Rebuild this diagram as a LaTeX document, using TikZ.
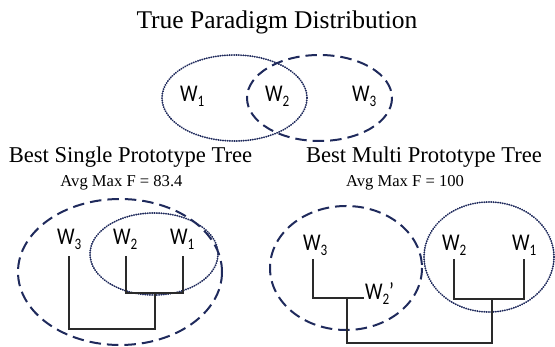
\documentclass[tikz,border=0pt]{standalone}
\usepackage{fontspec}
\setmainfont{Liberation Serif}
\newfontfamily\wfont[FakeStretch=0.82]{Carlito}
\newcommand\Wl[1]{{\wfont\fontsize{24}{24}\selectfont W\raisebox{-5pt}{\fontsize{16}{16}\selectfont #1}}}
\begin{document}
\begin{tikzpicture}[x=1pt,y=-1pt]
\definecolor{navy}{HTML}{1F2A5C}
\definecolor{treegray}{HTML}{2A2A2A}
\tikzset{
  dashell/.style={draw=navy,line width=2pt,dash pattern=on 11.5pt off 6pt},
  dotell/.style={draw=navy,line width=1.8pt,line cap=round,dash pattern=on 0.4pt off 1.9pt},
  branch/.style={draw=treegray,line width=1.3pt},
  wlab/.style={anchor=base west,inner sep=0pt,outer sep=0pt},
  title/.style={anchor=base,inner sep=0pt,font=\fontsize{25.5}{25.5}\selectfont},
  subtitle/.style={anchor=base,inner sep=0pt,font=\fontsize{22.6}{22.6}\selectfont},
  score/.style={anchor=base,inner sep=0pt,font=\fontsize{16.6}{16.6}\selectfont}
}
\useasboundingbox (0,0) rectangle (555,347);
% titles
\node[title] (t) at (277,28.5) {True Paradigm Distribution};
\node[subtitle] (ts) at (130.5,163) {Best Single Prototype Tree};
\node[subtitle] (tm) at (424,163) {Best Multi Prototype Tree};
\node[score] (fs) at (121.5,187) {Avg Max F = 83.4};
\node[score] (fm) at (405,187) {Avg Max F = 100};
% top Venn
\draw[dotell] (234.5,98) ellipse [x radius=72.5,y radius=43];
\draw[dashell] (319.5,98) ellipse [x radius=72.5,y radius=43];
\node[wlab] (v1) at (180,102) {\Wl{1}};
\node[wlab] (v2) at (265,102) {\Wl{2}};
\node[wlab] (v3) at (352,102) {\Wl{3}};
% left tree
\draw[dashell] (120,272) ellipse [x radius=102,y radius=73];
\draw[dotell] (154,254) ellipse [x radius=64,y radius=41];
\node[wlab] (a3) at (57,245) {\Wl{3}};
\node[wlab] (a2) at (113,245) {\Wl{2}};
\node[wlab] (a1) at (170,245) {\Wl{1}};
\coordinate (A3) at (69,256);
\coordinate (A2) at (126,256);
\coordinate (A1) at (183,256);
\coordinate (Aa) at (155,293);
\coordinate (Ab) at (155,329);
\draw[branch] (A2) -- (A2 |- Aa) -- (A1 |- Aa) -- (A1);
\draw[branch] (Aa) -- (Ab) -- (A3 |- Ab) -- (A3);
% right tree
\draw[dashell] (346,268) ellipse [x radius=76,y radius=62];
\draw[dotell] (489,257) ellipse [x radius=65,y radius=55];
\node[wlab] (b3) at (303,251) {\Wl{3}};
\node[wlab] (b2) at (442,251) {\Wl{2}};
\node[wlab] (b1) at (512,251) {\Wl{1}};
\node[wlab] (bp) at (365,300) {\Wl{2}{\wfont\fontsize{24}{24}\selectfont ’}};
\coordinate (B3) at (313,259);
\coordinate (B2) at (454,259);
\coordinate (B1) at (524,259);
\coordinate (Bp) at (364,298);
\coordinate (Bm) at (347,298);
\coordinate (Bb) at (347,343);
\coordinate (Ba) at (492,299);
\draw[branch] (B3) -- (B3 |- Bp) -- (Bp);
\draw[branch] (B2) -- (B2 |- Ba) -- (B1 |- Ba) -- (B1);
\draw[branch] (Bm) -- (Bb) -- (Ba |- Bb) -- (Ba);
\end{tikzpicture}
\end{document}
